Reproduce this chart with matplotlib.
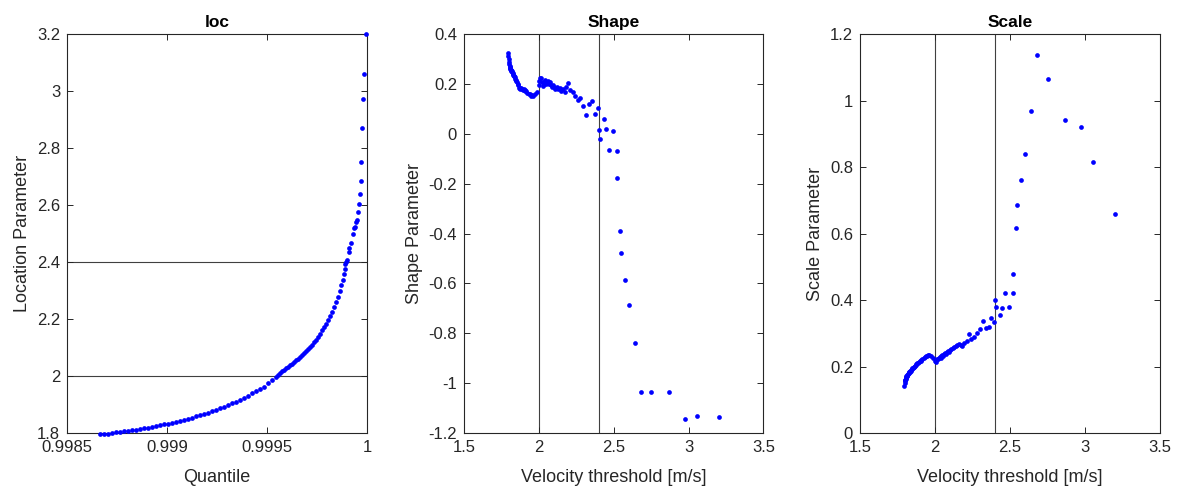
import numpy as np
import matplotlib
matplotlib.use('Agg')
import matplotlib.pyplot as plt
from matplotlib.ticker import FuncFormatter

# quantile of each velocity threshold, and the fitted GPD parameters for it
quantile = [
    0.998665, 0.998685, 0.998705, 0.998725, 0.998745, 0.998765, 0.998785, 0.998805,
    0.998825, 0.998845, 0.998865, 0.998885, 0.998905, 0.998925, 0.998945, 0.998965,
    0.998985, 0.999005, 0.999025, 0.999045, 0.999065, 0.999085, 0.999105, 0.999125,
    0.999145, 0.999165, 0.999185, 0.999205, 0.999225, 0.999245, 0.999265, 0.999285,
    0.999305, 0.999325, 0.999345, 0.999365, 0.999385, 0.999405, 0.999425, 0.999445,
    0.999465, 0.999485, 0.999505, 0.999525, 0.999545,
    0.999555, 0.999565, 0.999575, 0.999585, 0.999595, 0.999605, 0.999615, 0.999625,
    0.999635, 0.999645, 0.999655, 0.999665, 0.999675, 0.999685, 0.999695, 0.999705,
    0.999715, 0.999725, 0.999735, 0.999745, 0.999755, 0.999765, 0.999775, 0.999785,
    0.999795, 0.999805, 0.999815, 0.999825, 0.999835, 0.999845, 0.999855, 0.999865,
    0.999872, 0.999878, 0.999884, 0.999888,
    0.999892, 0.999895, 0.999898, 0.999908, 0.999912, 0.999918, 0.999930, 0.999937,
    0.999940, 0.999945, 0.999949, 0.999955, 0.999960, 0.999964, 0.999968, 0.999972,
    0.999976, 0.999980, 0.999985, 0.999995,
]
threshold = [
    1.795, 1.797, 1.798, 1.800, 1.802, 1.804, 1.806, 1.808,
    1.810, 1.812, 1.814, 1.816, 1.819, 1.822, 1.825, 1.828,
    1.830, 1.833, 1.836, 1.839, 1.842, 1.846, 1.850, 1.854,
    1.858, 1.862, 1.866, 1.871, 1.876, 1.881, 1.887, 1.892,
    1.898, 1.904, 1.910, 1.917, 1.924, 1.931, 1.939, 1.946,
    1.955, 1.963, 1.975, 1.986, 1.998,
    2.004, 2.010, 2.016, 2.022, 2.028, 2.033, 2.038, 2.043,
    2.049, 2.055, 2.061, 2.067, 2.073, 2.080, 2.087, 2.094,
    2.102, 2.110, 2.119, 2.128, 2.138, 2.149, 2.160, 2.172,
    2.184, 2.197, 2.211, 2.226, 2.242, 2.259, 2.278, 2.298,
    2.318, 2.338, 2.358, 2.375,
    2.393, 2.400, 2.407, 2.436, 2.449, 2.467, 2.497, 2.520,
    2.524, 2.540, 2.547, 2.575, 2.603, 2.640, 2.683, 2.752,
    2.872, 2.973, 3.059, 3.200,
]
shape = [
    0.325, 0.310, 0.298, 0.288, 0.280, 0.272, 0.268, 0.262,
    0.258, 0.255, 0.252, 0.254, 0.248, 0.250, 0.243, 0.240,
    0.236, 0.232, 0.233, 0.226, 0.220, 0.215, 0.212, 0.208,
    0.200, 0.195, 0.183, 0.180, 0.185, 0.183, 0.178, 0.176,
    0.180, 0.175, 0.170, 0.172, 0.165, 0.160, 0.158, 0.152,
    0.155, 0.150, 0.158, 0.168, 0.195,
    0.210, 0.225, 0.222, 0.208, 0.190, 0.200, 0.215, 0.210,
    0.198, 0.205, 0.210, 0.200, 0.206, 0.195, 0.188, 0.195,
    0.186, 0.180, 0.188, 0.178, 0.182, 0.170, 0.178, 0.168,
    0.186, 0.203, 0.175, 0.166, 0.153, 0.135, 0.142, 0.113,
    0.075, 0.119, 0.133, 0.079,
    0.102, 0.015, -0.021, 0.059, 0.019, -0.064, 0.012, -0.070,
    -0.177, -0.389, -0.478, -0.585, -0.687, -0.840, -1.037, -1.037,
    -1.037, -1.144, -1.133, -1.134,
]
scale = [
    0.142, 0.150, 0.155, 0.158, 0.160, 0.163, 0.165, 0.167,
    0.170, 0.172, 0.172, 0.175, 0.176, 0.178, 0.180, 0.182,
    0.183, 0.185, 0.187, 0.188, 0.190, 0.193, 0.195, 0.197,
    0.199, 0.200, 0.203, 0.205, 0.207, 0.210, 0.211, 0.214,
    0.216, 0.218, 0.220, 0.222, 0.225, 0.228, 0.231, 0.233,
    0.236, 0.235, 0.233, 0.226, 0.218,
    0.214, 0.220, 0.224, 0.222, 0.226, 0.229, 0.226, 0.231,
    0.234, 0.233, 0.237, 0.240, 0.238, 0.243, 0.246, 0.245,
    0.250, 0.253, 0.257, 0.259, 0.262, 0.264, 0.268, 0.266,
    0.262, 0.270, 0.278, 0.298, 0.284, 0.290, 0.300, 0.312,
    0.338, 0.315, 0.320, 0.345,
    0.333, 0.399, 0.379, 0.355, 0.376, 0.420, 0.378, 0.420,
    0.479, 0.617, 0.685, 0.762, 0.839, 0.968, 1.136, 1.065,
    0.940, 0.921, 0.816, 0.659,
]

loc_lines = [2.0, 2.4]      # horizontal lines in the loc panel
thr_lines = [2.0, 2.4]      # vertical lines in shape / scale panels

loc_yticks = [1.8, 2.0, 2.2, 2.4, 2.6, 2.8, 3.0, 3.2]
q_xticks = [0.9985, 0.999, 0.9995, 1.0]
thr_xticks = [1.5, 2.0, 2.5, 3.0, 3.5]
shape_yticks = [0.4, 0.2, 0.0, -0.2, -0.4, -0.6, -0.8, -1.0, -1.2]
scale_yticks = [0.0, 0.2, 0.4, 0.6, 0.8, 1.0, 1.2]

plt.rcParams['font.family'] = ['Liberation Sans', 'DejaVu Sans']
txt = '#262626'
fmt = FuncFormatter(lambda v, p: f"{v:g}")
ms = 3.4

fig = plt.figure(figsize=(11.78, 4.91), dpi=100)
ax1 = fig.add_axes([0.0569, 0.1181, 0.2547, 0.8126])
ax2 = fig.add_axes([0.3939, 0.1181, 0.2542, 0.8126])
ax3 = fig.add_axes([0.7301, 0.1181, 0.2542, 0.8126])

def style(ax, title, xlabel, ylabel):
    ax.set_title(title, fontsize=12.5, fontweight='bold', color='black', pad=5)
    ax.set_xlabel(xlabel, fontsize=13, color=txt, labelpad=10)
    ax.set_ylabel(ylabel, fontsize=13, color=txt, labelpad=4)
    ax.tick_params(direction='in', top=True, right=True, length=4, width=0.7,
                   labelsize=12, colors=txt, pad=5)
    ax.xaxis.set_major_formatter(fmt)
    ax.yaxis.set_major_formatter(fmt)
    for s in ax.spines.values():
        s.set_color(txt)
        s.set_linewidth(0.8)

# loc
for v in loc_lines:
    ax1.axhline(v, color='#404040', lw=0.8, zorder=1)
ax1.plot(quantile, threshold, 'o', color='blue', ms=ms, mew=0, zorder=3, clip_on=False)
ax1.set_xlim(0.9985, 1.0)
ax1.set_ylim(1.8, 3.2)
ax1.set_xticks(q_xticks)
ax1.set_yticks(loc_yticks)
style(ax1, 'loc', 'Quantile', 'Location Parameter')

# shape
for v in thr_lines:
    ax2.axvline(v, color='#404040', lw=0.8, zorder=1)
ax2.plot(threshold, shape, 'o', color='blue', ms=ms, mew=0, zorder=3)
ax2.set_xlim(1.5, 3.5)
ax2.set_ylim(-1.2, 0.4)
ax2.set_xticks(thr_xticks)
ax2.set_yticks(shape_yticks)
style(ax2, 'Shape', 'Velocity threshold [m/s]', 'Shape Parameter')

# scale
for v in thr_lines:
    ax3.axvline(v, color='#404040', lw=0.8, zorder=1)
ax3.plot(threshold, scale, 'o', color='blue', ms=ms, mew=0, zorder=3)
ax3.set_xlim(1.5, 3.5)
ax3.set_ylim(0, 1.2)
ax3.set_xticks(thr_xticks)
ax3.set_yticks(scale_yticks)
style(ax3, 'Scale', 'Velocity threshold [m/s]', 'Scale Parameter')

fig.savefig('out.png', dpi=100)
